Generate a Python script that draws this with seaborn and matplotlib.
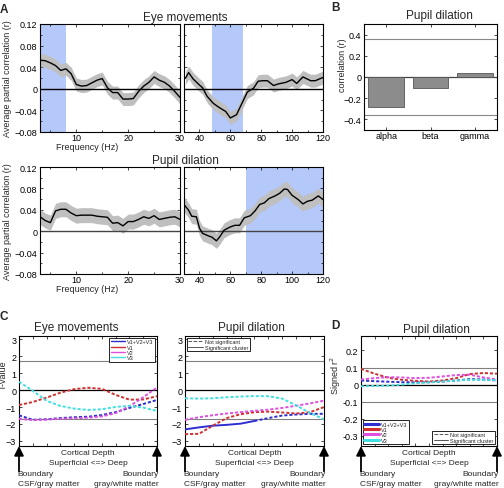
import numpy as np
import matplotlib
matplotlib.use('Agg')
import matplotlib.pyplot as plt
from matplotlib.lines import Line2D
from matplotlib.ticker import FixedLocator
import seaborn as sns

# ---- panel A: partial correlation vs frequency
freq_low = [3, 4, 5, 6, 7, 8, 9, 10, 11, 12, 13, 14, 15, 16, 17, 18, 19, 20,
            21, 22, 23, 24, 25, 26, 27, 28, 29, 30]
eye_low = [0.053, 0.052, 0.048, 0.043, 0.034, 0.037, 0.028, 0.008, 0.005, 0.006,
           0.011, 0.016, 0.019, 0.002, -0.007, -0.007, -0.019, -0.019, -0.018,
           -0.005, 0.005, 0.012, 0.022, 0.016, 0.012, 0.005, -0.005, -0.016]
pupil_low = [0.027, 0.020, 0.016, 0.038, 0.041, 0.041, 0.034, 0.029, 0.030, 0.030,
             0.030, 0.028, 0.027, 0.026, 0.015, 0.016, 0.010, 0.018, 0.018, 0.022,
             0.027, 0.024, 0.029, 0.022, 0.024, 0.026, 0.027, 0.022]

freq_eye_high = [31, 33, 36, 40, 42, 45, 49, 53, 57, 60, 64, 67, 71, 75, 78, 81,
                 84, 88, 91, 96, 100, 103, 107, 112, 115, 120]
eye_high = [0.020, 0.030, 0.018, 0.007, 0.002, -0.014, -0.027, -0.035, -0.042,
            -0.054, -0.048, -0.030, -0.006, 0.001, 0.014, 0.015, 0.015, 0.006,
            0.009, 0.012, 0.017, 0.010, 0.022, 0.015, 0.015, 0.021]

freq_pupil_high = [30, 33, 35, 38, 40, 42, 46, 48, 51, 53, 56, 60, 63, 66, 69, 73,
                   76, 79, 82, 85, 89, 92, 95, 97, 100, 104, 107, 110, 113, 117, 120]
pupil_high = [0.050, 0.039, 0.028, 0.027, 0.006, -0.004, -0.009, -0.011, -0.018,
              -0.011, 0.002, 0.008, 0.011, 0.011, 0.025, 0.029, 0.038, 0.050,
              0.053, 0.061, 0.066, 0.071, 0.079, 0.078, 0.067, 0.059, 0.051,
              0.056, 0.058, 0.066, 0.059]
sem_eye = 0.012
sem_pupil = 0.014

# ---- panel B
bands = ['alpha', 'beta', 'gamma']
band_corr = [-0.28, -0.10, 0.04]
crit_corr = 0.36

# ---- panels C / D: cortical depth profiles
depth = [0.0, 0.1, 0.2, 0.3, 0.4, 0.5, 0.6, 0.7, 0.8, 0.9, 1.0]
region_names = ['V1+V2+V3', 'V1', 'V2', 'V3']
region_colors = ['#2e2ed0', '#d03030', '#e050e0', '#40e0e0']

eye_t_v123 = [-1.49, -1.75, -1.72, -1.65, -1.60, -1.57, -1.47, -1.30, -1.05, -0.82, -0.58]
eye_t_v1 = [-0.88, -0.70, -0.44, -0.15, 0.06, 0.14, 0.08, -0.28, -0.56, -0.55, -0.36]
eye_t_v2 = [-1.69, -1.77, -1.74, -1.69, -1.66, -1.63, -1.55, -1.36, -0.95, -0.42, 0.16]
eye_t_v3 = [0.50, -0.04, -0.63, -0.93, -1.09, -1.17, -1.13, -0.99, -0.93, -1.03, -1.23]

pupil_t_v123 = [-2.32, -2.20, -2.10, -2.05, -1.98, -1.82, -1.65, -1.50, -1.44, -1.40, -1.40]
pupil_t_v1 = [-2.60, -2.58, -2.10, -1.65, -1.42, -1.30, -1.27, -1.32, -1.38, -1.30, -1.00]
pupil_t_v2 = [-1.75, -1.60, -1.48, -1.38, -1.30, -1.22, -1.15, -1.05, -0.92, -0.78, -0.62]
pupil_t_v3 = [-0.48, -0.50, -0.48, -0.42, -0.38, -0.35, -0.36, -0.50, -0.90, -1.35, -1.72]
n_sig_v123 = 6  # first points of V1+V2+V3 forming the significant cluster
t_crit = 1.7

pupil_r2_v123 = [0.024, 0.020, 0.017, 0.014, 0.013, 0.014, 0.018, 0.024, 0.032, 0.030, 0.024]
pupil_r2_v1 = [0.092, 0.064, 0.040, 0.028, 0.022, 0.018, 0.024, 0.038, 0.062, 0.068, 0.064]
pupil_r2_v2 = [0.030, 0.038, 0.044, 0.042, 0.038, 0.040, 0.048, 0.056, 0.058, 0.042, 0.030]
pupil_r2_v3 = [-0.010, -0.008, -0.006, 0.000, 0.008, 0.013, 0.018, 0.024, 0.028, 0.028, 0.026]
r2_crit = 0.1

W, H = 504, 489
sns.set_style('ticks')
plt.rcParams['font.family'] = ['Liberation Sans', 'DejaVu Sans']
fig = plt.figure(figsize=(W / 100, H / 100), dpi=100)

SPAN = '#b5c8fa'
BAND = '#bfbfbf'


def add_ax(x0, y0, x1, y1):
    # pixel box -> figure axes
    return fig.add_axes([x0 / W, 1 - y1 / H, (x1 - x0) / W, (y1 - y0) / H])


def ftext(x, y, s, **kw):
    kw.setdefault('ha', 'center')
    kw.setdefault('va', 'center')
    fig.text(x / W, 1 - y / H, s, **kw)


def style(ax):
    for sp in ax.spines.values():
        sp.set_linewidth(0.8)
        sp.set_color('k')
    ax.tick_params(which='both', direction='in', top=True, right=True,
                   labelsize=6.5, width=0.5, pad=2, colors='k')
    ax.tick_params(axis='x', which='both', pad=1)
    ax.tick_params(which='major', length=2.5)
    ax.tick_params(which='minor', length=1.5)
    ax.grid(False)


yt_a = [-0.08, -0.04, 0, 0.04, 0.08, 0.12]
yl_a = ['\u22120.08', '\u22120.04', '0', '0.04', '0.08', '0.12']


def freq_panel(ax, f, v, sem, span, zero_col, left):
    f = np.array(f)
    v = np.array(v)
    ax.axvspan(span[0], span[1], color=SPAN, lw=0, zorder=0)
    ax.fill_between(f, v - sem, v + sem, color=BAND, lw=0, zorder=1)
    sns.lineplot(x=f, y=v, ax=ax, color='k', lw=1.0, zorder=3)
    ax.axhline(0, color=zero_col, lw=1.0, zorder=2)
    ax.set_ylim(-0.08, 0.12)
    ax.set_yticks(yt_a)
    ax.yaxis.set_minor_locator(FixedLocator([-0.06, -0.02, 0.02, 0.06, 0.1]))
    if left:
        ax.set_xlim(3, 30)
        ax.set_xticks([10, 20, 30])
        ax.xaxis.set_minor_locator(FixedLocator([5, 15, 25]))
        ax.set_yticklabels(yl_a)
        ax.set_ylabel('Average partial correlation (r)', fontsize=6.5)
        ax.yaxis.set_label_coords(-0.2, 0.5)
        ax.set_xlabel('Frequency (Hz)', fontsize=6.5)
        ax.xaxis.set_label_coords(0.336, -0.095)
    else:
        ax.set_xlim(30, 120)
        ax.set_xticks([40, 60, 80, 100, 120])
        ax.xaxis.set_minor_locator(FixedLocator([50, 70, 90, 110]))
        ax.set_yticklabels([])
        ax.set_ylabel('')
    style(ax)


# ---- A
ax1 = add_ax(40, 25, 180, 133)
freq_panel(ax1, freq_low, eye_low, sem_eye, (3, 8), 'k', True)
ax2 = add_ax(184, 25, 323, 133)
freq_panel(ax2, freq_eye_high, eye_high, sem_eye, (48, 68), 'k', False)
ax3 = add_ax(40, 168, 180, 275)
freq_panel(ax3, freq_low, pupil_low, sem_pupil, (0, 0), '#444444', True)
ax4 = add_ax(184, 168, 323, 275)
freq_panel(ax4, freq_pupil_high, pupil_high, sem_pupil, (70, 120), '#444444', False)

ftext(4, 10, 'A', fontsize=8.5, fontweight='bold')
ftext(185, 17.5, 'Eye movements', fontsize=8.5)
ftext(185, 161, 'Pupil dilation', fontsize=8.5)

# ---- B
axb = add_ax(364, 25, 497, 131)
sns.barplot(x=bands, y=band_corr, ax=axb, color='#8c8c8c', saturation=1,
            edgecolor='#555555', linewidth=0.6, width=0.8, zorder=2)
for c in (crit_corr, -crit_corr):
    axb.axhline(c, color='#888888', lw=0.8, zorder=1)
axb.axhline(0, color='#444444', lw=0.9, zorder=1)
axb.set_xlim(-0.5, 2.5)
axb.set_ylim(-0.5, 0.5)
axb.set_yticks([-0.4, -0.2, 0, 0.2, 0.4])
axb.set_yticklabels(['\u22120.4', '\u22120.2', '0', '0.2', '0.4'])
axb.set_ylabel('correlation (r)', fontsize=6.5)
axb.yaxis.set_label_coords(-0.128, 0.62)
style(axb)
axb.tick_params(axis='x', labelsize=6.5)
ftext(335, 8, 'B', fontsize=8.5, fontweight='bold')
ftext(439, 15.5, 'Pupil dilation', fontsize=8.5)

# ---- C / D
DOT = (0, (1.6, 1.0))


def depth_panel(ax, series, ylim, yt, ytl, crit, solid_first=0):
    for vals, col in zip(series, region_colors):
        if solid_first and col == region_colors[0]:
            sns.lineplot(x=depth[:solid_first], y=vals[:solid_first], ax=ax,
                         color=col, lw=1.4, zorder=3)
            sns.lineplot(x=depth[solid_first - 1:], y=vals[solid_first - 1:], ax=ax,
                         color=col, lw=1.4, linestyle=DOT, zorder=3)
        else:
            sns.lineplot(x=depth, y=vals, ax=ax, color=col, lw=1.4,
                         linestyle=DOT, zorder=3)
    for c in (crit, -crit):
        ax.axhline(c, color='#808080', lw=0.8, zorder=1)
    ax.axhline(0, color='k', lw=0.9, zorder=1)
    ax.set_xlim(0, 1)
    ax.set_ylim(*ylim)
    ax.set_xticks(depth)
    ax.set_xticklabels([])
    ax.set_yticks(yt)
    ax.set_yticklabels(ytl)
    style(ax)
    # depth annotation under the axis
    kw = dict(transform=ax.transAxes, fontsize=6, va='center')
    ax.text(0.5, -0.055, 'Cortical Depth', ha='center', **kw)
    ax.text(0.5, -0.146, 'Superficial <=> Deep', ha='center', **kw)
    ax.text(-0.01, -0.25, 'Boundary', ha='left', **kw)
    ax.text(-0.01, -0.34, 'CSF/gray matter', ha='left', **kw)
    ax.text(1.01, -0.25, 'Boundary', ha='right', **kw)
    ax.text(1.01, -0.34, 'gray/white matter', ha='right', **kw)
    for x in (0, 1):
        ax.annotate('', xy=(x, 0.0), xycoords='axes fraction', xytext=(x, -0.23),
                    textcoords='axes fraction', annotation_clip=False,
                    arrowprops=dict(arrowstyle='-|>', color='k', lw=1.3,
                                    mutation_scale=14, shrinkA=0, shrinkB=0))


yt_c = [-3, -2, -1, 0, 1, 2, 3]
ytl_c = ['\u22123', '\u22122', '\u22121', '0', '1', '2', '3']

axc1 = add_ax(19, 337, 157, 447)
depth_panel(axc1, [eye_t_v123, eye_t_v1, eye_t_v2, eye_t_v3], (-3.3, 3.2),
            yt_c, ytl_c, t_crit)
axc1.set_ylabel('T-value', fontsize=6.5)
axc1.yaxis.set_label_coords(-0.08, 0.65)

axc2 = add_ax(185, 337, 324, 447)
depth_panel(axc2, [pupil_t_v123, pupil_t_v1, pupil_t_v2, pupil_t_v3], (-3.3, 3.2),
            yt_c, ytl_c, t_crit, solid_first=n_sig_v123)

axd = add_ax(361, 337, 497, 447)
depth_panel(axd, [pupil_r2_v123, pupil_r2_v1, pupil_r2_v2, pupil_r2_v3],
            (-0.36, 0.285), [-0.3, -0.2, -0.1, 0, 0.1, 0.2],
            ['-0.3', '-0.2', '-0.1', '0', '0.1', '0.2'], r2_crit)
axd.set_ylabel('Signed r$^2$', fontsize=6.5)
axd.yaxis.set_label_coords(-0.13, 0.65)

# legends
leg_kw = dict(fontsize=4, frameon=True, fancybox=False, edgecolor='k',
              framealpha=1, borderpad=0.3, labelspacing=0.05, handlelength=2.6,
              handletextpad=0.4, borderaxespad=0.3)
col_handles = [Line2D([], [], color=c, lw=1.0) for c in region_colors]
sig_handles = [Line2D([], [], color='#555555', lw=0.7, ls='--'),
               Line2D([], [], color='#555555', lw=0.7)]
sig_labels = ['Not significant', 'Significant cluster']

l1 = axc1.legend(col_handles, region_names, loc='upper right', **leg_kw)
l1.get_frame().set_linewidth(0.6)
l2 = axc2.legend(sig_handles, sig_labels, loc='upper left', **leg_kw)
l2.get_frame().set_linewidth(0.6)
col_handles_d = [Line2D([], [], color=c, lw=2.2) for c in region_colors]
l3 = axd.legend(col_handles_d, region_names, loc='lower left', **leg_kw)
l3.get_frame().set_linewidth(0.6)
axd.add_artist(l3)
l4 = axd.legend(sig_handles, sig_labels, loc='lower right', **leg_kw)
l4.get_frame().set_linewidth(0.6)

ftext(4, 317, 'C', fontsize=8.5, fontweight='bold')
ftext(76, 328, 'Eye movements', fontsize=8.5)
ftext(251, 328, 'Pupil dilation', fontsize=8.5)
ftext(335, 326, 'D', fontsize=8.5, fontweight='bold')
ftext(436, 330, 'Pupil dilation', fontsize=8.5)

fig.savefig('out.png', dpi=100, facecolor='white')
